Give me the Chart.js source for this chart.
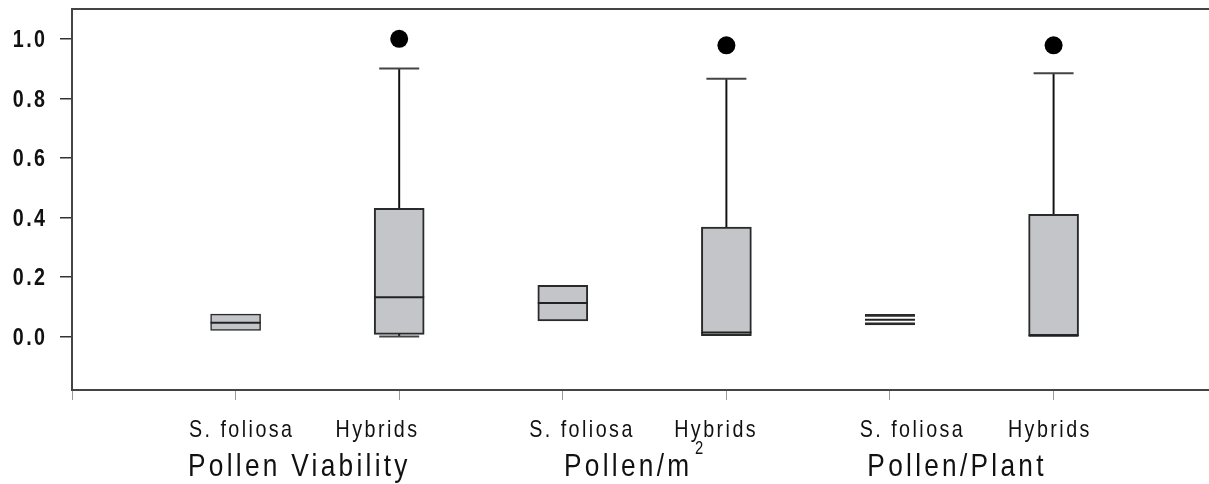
<!DOCTYPE html>
<html>
<head>
<meta charset="utf-8">
<script src="https://cdn.jsdelivr.net/npm/chart.js@4/dist/chart.umd.min.js"></script>
<style>
  html, body { margin: 0; padding: 0; background: #fff; }
  #wrap { width: 1209px; height: 484px; position: relative; }
</style>
</head>
<body>
<div id="wrap"><canvas id="box"></canvas></div>
<script>
'use strict'

// box positions on the x scale, one per category
const boxX = [1, 2, 3, 4, 5, 6];
const categories = ['S. foliosa', 'Hybrids', 'S. foliosa', 'Hybrids', 'S. foliosa', 'Hybrids'];
const groupTitles = ['Pollen Viability', 'Pollen/m', 'Pollen/Plant'];

const q1 = [0.020, 0.007, 0.052, 0.000, 0.039, 0.000];
const median = [0.046, 0.132, 0.112, 0.013, 0.056, 0.002];
const q3 = [0.075, 0.430, 0.172, 0.367, 0.074, 0.410];
const whiskerLow = [0.020, 0.000, 0.052, 0.000, 0.039, 0.000];
const whiskerHigh = [0.075, 0.900, 0.172, 0.866, 0.074, 0.884];
const outliers = [null, 1.000, null, 0.978, null, 0.978];

const yTicks = [0, 0.2, 0.4, 0.6, 0.8, 1.0];

// where the text goes (x scale values)
const catLabelAt = [1.03, 1.86, 3.11, 3.93, 5.13, 5.97];
const titleAt = [1.38, 3.39, 5.4];

const boxData = boxX.map((x, i) => ({ x: x, y: [q1[i], q3[i]] }));
const medData = boxX.map((x, i) => ({ x: x, y: median[i] }));
const whiskData = [];
const capData = [];
boxX.forEach((x, i) => {
    if (whiskerHigh[i] > q3[i]) {
        whiskData.push({ x: x, y: [q3[i], whiskerHigh[i]] });
        capData.push({ x: x, y: whiskerHigh[i] });
    }
    if (whiskerLow[i] < q1[i]) {
        whiskData.push({ x: x, y: [whiskerLow[i], q1[i]] });
        capData.push({ x: x, y: whiskerLow[i] });
    }
});
const outData = [];
boxX.forEach((x, i) => { if (outliers[i] !== null) outData.push({ x: x, y: outliers[i] }); });

// the S. foliosa box in Pollen/Plant is drawn as bare lines
const boxFill = boxX.map((x, i) => i === 4 ? 'rgba(0,0,0,0)' : '#c3c5c9');
const boxBorder = boxX.map((x, i) => i === 4 ? { top: 2, bottom: 2, left: 0, right: 0 } : (i === 0 ? 1.5 : 2));

// no narrow face installed, so squeeze Liberation Sans sideways
const SQUEEZE = 0.82;
const FAMILY = '"Liberation Sans", Arial, sans-serif';

function drawNarrow(ctx, text, x, y, font, spacing, align) {
    ctx.save();
    ctx.font = font;
    ctx.letterSpacing = spacing + 'px';
    const w = (ctx.measureText(text).width - spacing) * SQUEEZE;
    let left = x;
    if (align === 'center') left = x - w / 2;
    if (align === 'right') left = x - w;
    ctx.translate(left, y);
    ctx.scale(SQUEEZE, 1);
    ctx.textAlign = 'left';
    ctx.textBaseline = 'alphabetic';
    ctx.fillStyle = '#111';
    ctx.fillText(text, 0, 0);
    ctx.restore();
    return w;
}

const textPlugin = {
    id: 'textPlugin',
    afterDraw(chart) {
        const ctx = chart.ctx;
        const xs = chart.scales.x;
        const ys = chart.scales.y;
        const area = chart.chartArea;
        ctx.save();
        // top frame line
        ctx.strokeStyle = '#444';
        ctx.lineWidth = 2;
        ctx.beginPath();
        ctx.moveTo(area.left, area.top);
        ctx.lineTo(area.right, area.top);
        ctx.stroke();
        ctx.restore();

        yTicks.forEach(v => {
            drawNarrow(ctx, v.toFixed(1), 45, ys.getPixelForValue(v) + 8.5, 'bold 24px ' + FAMILY, 3, 'right');
        });
        categories.forEach((c, i) => {
            drawNarrow(ctx, c, xs.getPixelForValue(catLabelAt[i]), 437, '24px ' + FAMILY, 3, 'center');
        });
        let mEnd = 0;
        groupTitles.forEach((t, i) => {
            const cx = xs.getPixelForValue(titleAt[i]);
            const w = drawNarrow(ctx, t, cx, 476, '32px ' + FAMILY, 4, 'center');
            if (i === 1) mEnd = cx + w / 2;
        });
        // superscript for Pollen/m2
        drawNarrow(ctx, '2', mEnd + 6, 454, '18px ' + FAMILY, 0, 'left');
    }
};

new Chart(document.getElementById('box').getContext('2d'), {
    data: {
        datasets: [{
            type: 'bar',
            label: 'whiskers',
            data: whiskData,
            backgroundColor: '#111',
            barThickness: 1.3,
            grouped: false,
            order: 5
        }, {
            type: 'bar',
            label: 'boxes',
            data: boxData,
            backgroundColor: boxFill,
            borderColor: '#2a2a2a',
            borderWidth: boxBorder,
            borderSkipped: false,
            barThickness: 50,
            grouped: false,
            order: 4
        }, {
            type: 'scatter',
            label: 'median',
            data: medData,
            pointStyle: 'line',
            pointRadius: 25,
            pointHoverRadius: 25,
            borderColor: '#222',
            borderWidth: 2,
            order: 3
        }, {
            type: 'scatter',
            label: 'caps',
            data: capData,
            pointStyle: 'line',
            pointRadius: 20,
            pointHoverRadius: 20,
            borderColor: '#444',
            borderWidth: 2,
            order: 2
        }, {
            type: 'scatter',
            label: 'outliers',
            data: outData,
            pointStyle: 'circle',
            pointRadius: 9,
            pointHoverRadius: 9,
            backgroundColor: '#000',
            borderColor: '#000',
            borderWidth: 0,
            order: 1
        }]
    },
    options: {
        responsive: true,
        maintainAspectRatio: false,
        animation: false,
        events: [],
        layout: { autoPadding: false, padding: { top: 9, right: 0, bottom: 0, left: 0 } },
        plugins: {
            legend: { display: false },
            tooltip: { enabled: false }
        },
        scales: {
            x: {
                type: 'linear',
                position: 'bottom',
                min: 0,
                max: 6.95,
                offset: false,
                grid: { offset: false, drawOnChartArea: false, drawTicks: true, tickLength: 10, color: '#999', lineWidth: 1 },
                border: { display: true, color: '#444', width: 2 },
                ticks: { display: false, stepSize: 1, includeBounds: false },
                afterFit: s => { s.height = 94; s.paddingLeft = 0; s.paddingRight = 0; }
            },
            y: {
                type: 'linear',
                position: 'left',
                min: -0.18,
                max: 1.1,
                grid: { drawOnChartArea: false, drawTicks: true, tickLength: 12, color: '#333', lineWidth: 1.5 },
                border: { display: true, color: '#444', width: 2 },
                afterBuildTicks: s => { s.ticks = yTicks.map(v => ({ value: v })); },
                ticks: { display: false },
                afterFit: s => { s.width = 72; s.paddingTop = 0; s.paddingBottom = 0; }
            }
        }
    },
    plugins: [textPlugin]
});
</script>
</body>
</html>
